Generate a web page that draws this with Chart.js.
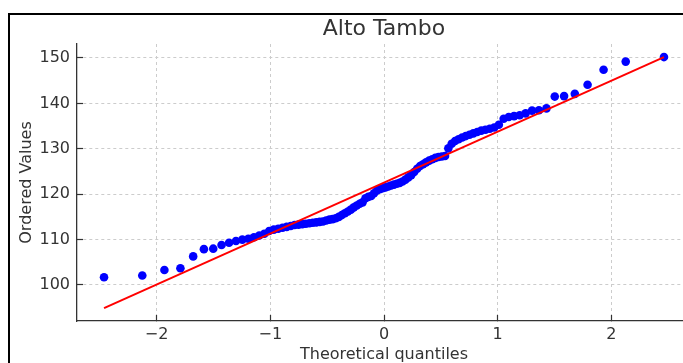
<!DOCTYPE html>
<html>
<head>
<meta charset="utf-8">
<script src="https://cdn.jsdelivr.net/npm/chart.js@4.4.0/dist/chart.umd.min.js"></script>
<style>
  html, body { margin: 0; padding: 0; background: #fff; overflow: hidden; }
  #frame { position: absolute; left: 8px; top: 13px; width: 760px; height: 380px;
           border-left: 2px solid #000; border-top: 2px solid #000; }
  #wrap { position: absolute; left: 0; top: 0; width: 748px; height: 360px; }
</style>
</head>
<body>
<div id="frame"><div id="wrap"><canvas id="myChart" width="748" height="360"></canvas></div></div>
<script>
'use strict';

// theoretical quantiles (n = 100)
const quantiles = [
  -2.4623, -2.1258, -1.9312, -1.7905, -1.6782, -1.5838, -1.5018, -1.4287, -1.3626, -1.3019,
  -1.2457, -1.1932, -1.1437, -1.0970, -1.0525, -1.0099, -0.9692, -0.9300, -0.8922, -0.8556,
  -0.8201, -0.7857, -0.7521, -0.7193, -0.6874, -0.6561, -0.6254, -0.5953, -0.5658, -0.5367,
  -0.5081, -0.4798, -0.4520, -0.4245, -0.3973, -0.3701, -0.3438, -0.3174, -0.2913, -0.2653,
  -0.2395, -0.2139, -0.1884, -0.1630, -0.1378, -0.1126, -0.0875, -0.0625, -0.0375, -0.0125,
   0.0125,  0.0375,  0.0625,  0.0875,  0.1126,  0.1378,  0.1630,  0.1884,  0.2139,  0.2395,
   0.2653,  0.2913,  0.3174,  0.3438,  0.3701,  0.3973,  0.4245,  0.4520,  0.4798,  0.5081,
   0.5367,  0.5658,  0.5953,  0.6254,  0.6561,  0.6874,  0.7193,  0.7521,  0.7857,  0.8201,
   0.8556,  0.8922,  0.9300,  0.9692,  1.0099,  1.0525,  1.0970,  1.1437,  1.1932,  1.2457,
   1.3019,  1.3626,  1.4287,  1.5018,  1.5838,  1.6782,  1.7905,  1.9312,  2.1258,  2.4623
];
// ordered values
const ordered = [
  101.7, 102.1, 103.3, 103.7, 106.3, 107.9, 108.0, 108.8, 109.3, 109.7,
  110.0, 110.2, 110.5, 110.9, 111.3, 111.9, 112.2, 112.4, 112.6, 112.8,
  113.0, 113.2, 113.3, 113.4, 113.5, 113.6, 113.7, 113.8, 113.9, 114.0,
  114.2, 114.4, 114.5, 114.7, 115.0, 115.4, 115.8, 116.2, 116.6, 117.1,
  117.5, 117.9, 118.2, 119.1, 119.4, 119.6, 120.2, 120.8, 121.1, 121.3,
  121.5, 121.7, 121.9, 122.1, 122.3, 122.5, 122.8, 123.2, 123.7, 124.2,
  124.9, 125.6, 126.2, 126.6, 127.0, 127.4, 127.7, 128.0, 128.2, 128.3,
  128.4, 130.1, 131.1, 131.7, 132.1, 132.5, 132.8, 133.1, 133.4, 133.7,
  134.0, 134.2, 134.4, 134.7, 135.3, 136.6, 137.0, 137.2, 137.4, 137.8,
  138.4, 138.5, 138.9, 141.5, 141.6, 142.1, 144.1, 147.4, 149.2, 150.2
];
// fitted line end points
const fitX = [-2.4623, 2.4623];
const fitY = [94.9, 150.2];

const xTicks = [-2, -1, 0, 1, 2];
const yTicks = [100, 110, 120, 130, 140, 150];

const fuente = 'DejaVu Sans';
const gris = '#333333';

var puntos = quantiles.map((q, i) => ({x: q, y: ordered[i]}));
var linea = fitX.map((q, i) => ({x: q, y: fitY[i]}));

function fmt(v) {
    return v < 0 ? '\u2212' + Math.abs(v) : '' + v;
}

var ctx = document.getElementById('myChart').getContext('2d');
var myChart = new Chart(ctx, {
    type: 'scatter',
    data: {
        datasets: [{
            data: linea,
            showLine: true,
            borderColor: '#ff0000',
            borderWidth: 2,
            pointRadius: 0,
            order: 0
        }, {
            data: puntos,
            backgroundColor: '#0000ff',
            borderWidth: 0,
            pointRadius: 4.3,
            order: 1
        }]
    },
    options: {
        responsive: false,
        animation: false,
        layout: { padding: { left: 0, right: 67, top: 0, bottom: 11 } },
        plugins: {
            legend: { display: false },
            tooltip: { enabled: false },
            title: {
                display: true,
                text: 'Alto Tambo',
                fullSize: false,
                color: gris,
                font: { family: fuente, size: 22, weight: 'normal', lineHeight: 1.1 },
                padding: { top: 2, bottom: 2.8 }
            }
        },
        scales: {
            x: {
                type: 'linear',
                min: -2.70,
                max: 2.70,
                afterBuildTicks: function (scale) {
                    scale.ticks = xTicks.map(v => ({value: v}));
                },
                afterFit: function (scale) { scale.height = 43; },
                grid: { color: '#cccccc', lineWidth: 1, tickLength: -6, tickColor: gris, tickWidth: 1.2 },
                border: { display: true, color: gris, width: 1.3, dash: [3, 3] },
                ticks: {
                    color: gris, padding: 10, maxRotation: 0,
                    font: { family: fuente, size: 16 },
                    callback: v => fmt(v)
                },
                title: {
                    display: true, text: 'Theoretical quantiles', color: gris,
                    font: { family: fuente, size: 16, lineHeight: 1.2 },
                    padding: { top: 0, bottom: 0 }
                }
            },
            y: {
                type: 'linear',
                min: 92.07,
                max: 153.08,
                afterBuildTicks: function (scale) {
                    scale.ticks = yTicks.map(v => ({value: v}));
                },
                afterFit: function (scale) { scale.width = 67; },
                grid: { color: '#cccccc', lineWidth: 1, tickLength: -6, tickColor: gris, tickWidth: 1.2 },
                border: { display: true, color: gris, width: 1.3, dash: [3, 3] },
                ticks: {
                    color: gris, padding: 13,
                    font: { family: fuente, size: 16 },
                    callback: v => fmt(v)
                },
                title: {
                    display: true, text: 'Ordered Values', color: gris,
                    font: { family: fuente, size: 16, lineHeight: 1.2 },
                    padding: { top: 7, bottom: 0 }
                }
            }
        }
    }
});
</script>
</body>
</html>
